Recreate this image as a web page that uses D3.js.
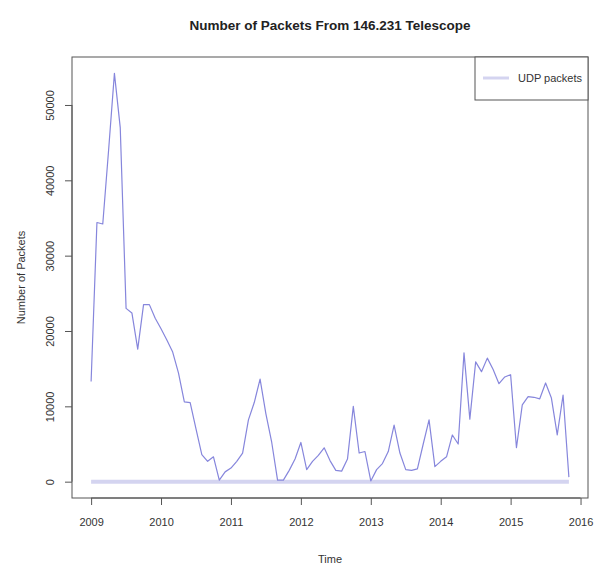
<!DOCTYPE html>
<html>
<head>
<meta charset="utf-8">
<script src="https://cdn.jsdelivr.net/npm/d3@7"></script>
<style>
  html, body { margin: 0; padding: 0; background: #fff; }
  svg { display: block; font-family: "Liberation Sans", Arial, sans-serif; }
</style>
</head>
<body>
<svg id="chart" width="602" height="566"></svg>
<script>
// Monthly packet counts, Jan 2009 – Nov 2015
const startYear = 2009;
const totalPackets = [
  13300, 34400, 34200, 44000, 54200, 47000, 23000, 22400, 17600, 23500, 23500, 21700, // 2009
  20300, 18800, 17200, 14400, 10600, 10500, 7000, 3600, 2700, 3300, 200, 1300,         // 2010
  1800, 2700, 3800, 8200, 10500, 13600, 9000, 5200, 200, 200, 1500, 3000,              // 2011
  5200, 1600, 2700, 3500, 4500, 2800, 1500, 1400, 3000, 10000, 3800, 4000,             // 2012
  100, 1600, 2400, 4000, 7500, 3800, 1600, 1500, 1700, 5000, 8200, 2000,               // 2013
  2700, 3300, 6200, 5000, 17100, 8300, 15900, 14600, 16400, 14900, 13000, 13900,       // 2014
  14200, 4500, 10200, 11300, 11200, 11000, 13100, 11100, 6200, 11500, 600              // 2015
];
// UDP share of the traffic over the same months
const udpPackets = totalPackets.map(() => 0);
const xTickValues = [2009, 2010, 2011, 2012, 2013, 2014, 2015, 2016];
const yTickValues = [0, 10000, 20000, 30000, 40000, 50000];
const legendLabels = ["UDP packets"];

const times = totalPackets.map((_, i) => startYear + i / 12);

const svg = d3.select("#chart");
const plot = { left: 72, right: 588, top: 57, bottom: 498 };

// R-style 4% padding around the data range
const tMin = d3.min(times), tMax = d3.max(times);
const tPad = (tMax - tMin) * 0.04;
const vMin = Math.min(d3.min(totalPackets), d3.min(udpPackets));
const vMax = Math.max(d3.max(totalPackets), d3.max(udpPackets));
const vPad = (vMax - vMin) * 0.04;

const x = d3.scaleLinear().domain([tMin - tPad, tMax + tPad]).range([plot.left, plot.right]);
const y = d3.scaleLinear().domain([vMin - vPad, vMax + vPad]).range([plot.bottom, plot.top]);

const axisColor = "#555";
const textColor = "#333";

// Title
svg.append("text")
  .attr("x", (plot.left + plot.right) / 2)
  .attr("y", 30)
  .attr("text-anchor", "middle")
  .attr("font-weight", "bold")
  .attr("font-size", 13.5)
  .attr("fill", "#222")
  .text("Number of Packets From 146.231 Telescope");

// UDP series (thick, light)
const line = d3.line().x((d, i) => x(times[i])).y(d => y(d));
svg.append("path")
  .datum(udpPackets)
  .attr("d", line)
  .attr("fill", "none")
  .attr("stroke", "#d4d4f0")
  .attr("stroke-width", 4);

// Total packets
svg.append("path")
  .datum(totalPackets)
  .attr("d", line)
  .attr("fill", "none")
  .attr("stroke", "#8686dc")
  .attr("stroke-width", 1.2)
  .attr("stroke-linejoin", "round");

// Plot frame
svg.append("rect")
  .attr("x", plot.left).attr("y", plot.top)
  .attr("width", plot.right - plot.left)
  .attr("height", plot.bottom - plot.top)
  .attr("fill", "none")
  .attr("stroke", axisColor)
  .attr("stroke-width", 1);

// X axis (line spans first to last tick, R-style)
const xAxis = svg.append("g")
  .attr("transform", `translate(0,${plot.bottom})`)
  .call(d3.axisBottom(x).tickValues(xTickValues).tickFormat(d3.format("d")).tickSize(7).tickPadding(13));
xAxis.select(".domain").attr("d", `M${x(xTickValues[0])},0H${x(xTickValues[xTickValues.length - 1])}`);
xAxis.selectAll("line, .domain").attr("stroke", axisColor);
xAxis.selectAll("text").attr("font-size", 11).attr("fill", textColor).attr("font-family", "Liberation Sans, Arial, sans-serif");

// Y axis with rotated labels
const yAxis = svg.append("g")
  .attr("transform", `translate(${plot.left},0)`)
  .call(d3.axisLeft(y).tickValues(yTickValues).tickFormat(d3.format("d")).tickSize(7));
yAxis.select(".domain").attr("d", `M0,${y(yTickValues[0])}V${y(yTickValues[yTickValues.length - 1])}`);
yAxis.selectAll("line, .domain").attr("stroke", axisColor);
yAxis.selectAll("text")
  .attr("font-size", 11).attr("fill", textColor)
  .attr("font-family", "Liberation Sans, Arial, sans-serif")
  .attr("x", null).attr("dy", null)
  .attr("text-anchor", "middle")
  .attr("transform", "translate(-18,0) rotate(-90)");

// Axis titles
svg.append("text")
  .attr("x", (plot.left + plot.right) / 2)
  .attr("y", 563)
  .attr("text-anchor", "middle")
  .attr("font-size", 11)
  .attr("fill", textColor)
  .text("Time");

svg.append("text")
  .attr("transform", `translate(25,${(plot.top + plot.bottom) / 2}) rotate(-90)`)
  .attr("text-anchor", "middle")
  .attr("font-size", 11)
  .attr("fill", textColor)
  .text("Number of Packets");

// Legend
const legend = svg.append("g");
legend.append("rect")
  .attr("x", 475).attr("y", plot.top)
  .attr("width", plot.right - 475).attr("height", 43)
  .attr("fill", "#fff")
  .attr("stroke", axisColor);
legendLabels.forEach((label, i) => {
  const ly = plot.top + 21 + i * 16;
  legend.append("line")
    .attr("x1", 483).attr("x2", 509)
    .attr("y1", ly).attr("y2", ly)
    .attr("stroke", "#d4d4f0").attr("stroke-width", 3);
  legend.append("text")
    .attr("x", 518).attr("y", ly + 4)
    .attr("font-size", 11)
    .attr("fill", textColor)
    .text(label);
});
</script>
</body>
</html>
